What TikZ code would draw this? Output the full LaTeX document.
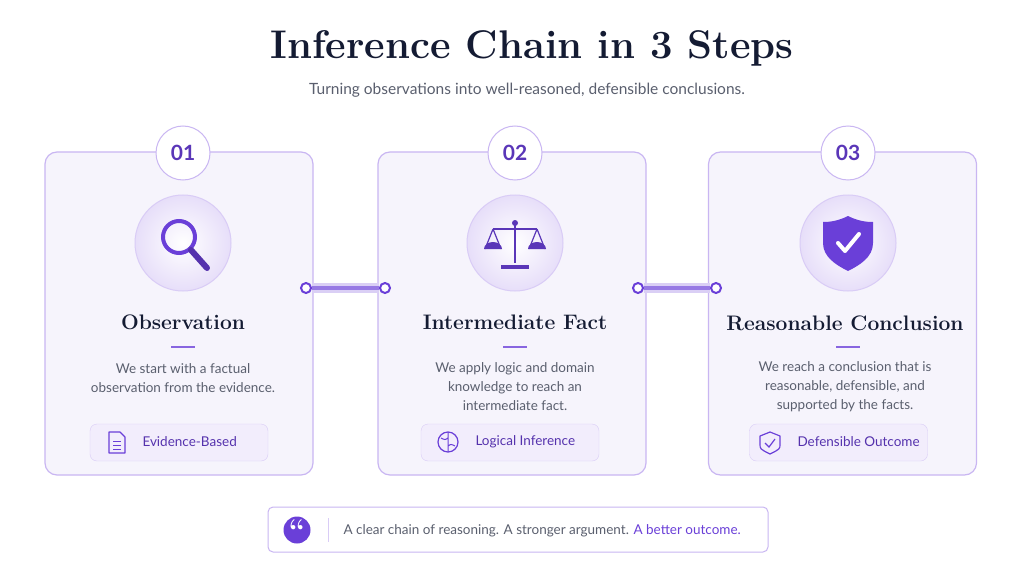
\documentclass[tikz,border=0pt]{standalone}
\usepackage{fontspec}
\setsansfont{Lato}
\usetikzlibrary{positioning}
\definecolor{ink}{HTML}{141B33}
\definecolor{txt}{HTML}{5A5F6E}
\definecolor{vio}{HTML}{6A3FD8}
\definecolor{lav}{HTML}{C9B6F2}
\definecolor{paleb}{HTML}{F6F4FC}
\tikzset{
  card/.style={draw=lav, line width=1.2pt, rounded corners=12pt, fill=paleb, minimum width=268pt, minimum height=323pt},
  num/.style={circle, draw=lav, line width=1pt, fill=white, minimum size=54pt, font=\sffamily\fontsize{21}{21}\selectfont\bfseries, text=vio!85!black},
  halo/.style={circle, draw=lav!70, line width=1pt, inner color=white, outer color=lav!45, minimum size=96pt},
  ttl/.style={font=\rmfamily\bfseries\fontsize{21}{21}\selectfont, text=ink},
  body/.style={font=\sffamily\fontsize{13.5}{19}\selectfont, text=txt, align=center},
  badge/.style={draw=lav!70, fill=lav!25, rounded corners=7pt, minimum width=178pt, minimum height=37pt},
  btxt/.style={font=\sffamily\fontsize{13.5}{14}\selectfont, text=vio!80!black},
  knob/.style={circle, draw=vio, line width=2pt, fill=white, minimum size=10pt, inner sep=0pt},
  link/.style={draw=vio!70, line width=4pt},
}
\begin{document}
\begin{tikzpicture}[x=1pt,y=-1pt]
    \useasboundingbox[fill=white] (0,0) rectangle (1024,580);

    \node[font=\rmfamily\bfseries\fontsize{40}{40}\selectfont, text=ink] (title) at (532,48) {Inference Chain in 3 Steps};
    \node[font=\sffamily\fontsize{15.5}{16}\selectfont, text=txt] (sub) at (527,90) {Turning observations into well-reasoned, defensible conclusions.};

    % cards
    \node[card] (c1) at (179,313.5) {};
    \node[card] (c2) at (512,313.5) {};
    \node[card] (c3) at (842.5,313.5) {};

    \foreach \n/\x/\lab in {1/183/01, 2/515/02, 3/848/03} {
        \node[num] (n\n) at (\x,153) {\lab};
        \node[halo] (h\n) at (\x,243) {};
        \draw[vio!80, line width=1.5pt] (\x-12,347) -- (\x+12,347);
    }

    % magnifier
    \draw[vio, line width=4pt] ([xshift=-4pt,yshift=6pt]h1.center) circle (16pt);
    \draw[vio!80!black, line width=6pt, line cap=round] ([xshift=8pt,yshift=-7pt]h1.center) -- ([xshift=24pt,yshift=-25pt]h1.center);
    % scales
    \begin{scope}[shift={(h2.center)}, vio!85!black, line width=2.5pt]
        \draw (0,-20) -- (0,20);
        \draw (-22,-14) -- (22,-14);
        \fill (-14,22) rectangle (14,26);
        \draw[line width=1.2pt] (-22,-14) -- (-30,6) (-22,-14) -- (-14,6) (22,-14) -- (14,6) (22,-14) -- (30,6);
        \fill (-31,6) arc (180:0:9 and -7) -- cycle;
        \fill (13,6) arc (180:0:9 and -7) -- cycle;
        \fill (0,-20) circle (3pt);
    \end{scope}
    % shield
    \begin{scope}[shift={(h3.center)}]
        \fill[vio] (0,-27) .. controls (10,-22) and (18,-21) .. (25,-21) -- (25,0) .. controls (25,14) and (12,22) .. (0,28) .. controls (-12,22) and (-25,14) .. (-25,0) -- (-25,-21) .. controls (-18,-21) and (-10,-22) .. (0,-27);
        \draw[white, line width=4pt, line cap=round, line join=round] (-10,0) -- (-3,8) -- (11,-9);
    \end{scope}

    % titles and texts
    \node[ttl] (t1) at (183,322) {Observation};
    \node[ttl] (t2) at (515,322) {Intermediate Fact};
    \node[ttl] (t3) at (845,323) {Reasonable Conclusion};
    \node[body] (b1) at (183,378) {We start with a factual\\observation from the evidence.};
    \node[body] (b2) at (515,387) {We apply logic and domain\\knowledge to reach an\\intermediate fact.};
    \node[body] (b3) at (845,387) {We reach a conclusion that is\\reasonable, defensible, and\\supported by the facts.};

    % badges
    \node[badge] (g1) at (179,442.5) {};
    \node[badge] (g2) at (510,442.5) {};
    \node[badge] (g3) at (838.5,442.5) {};
    \node[btxt, anchor=west] (gt1) at (139,442) {Evidence-Based};
    \node[btxt, anchor=west] (gt2) at (472,442) {Logical Inference};
    \node[btxt, anchor=west] (gt3) at (794,442) {Defensible Outcome};
    % badge icons
    \draw[vio, line width=1.2pt, line join=round] (109,432) -- (120,432) -- (125,437) -- (125,453) -- (109,453) -- cycle;
    \draw[vio, line width=1pt] (113,441) -- (121,441) (113,445) -- (121,445) (113,449) -- (121,449);
    \draw[vio, line width=1.2pt] (448,442) circle (10pt);
    \draw[vio, line width=1pt] (448,432) -- (448,452) (441,438) .. controls (445,440) .. (448,438) (455,446) .. controls (451,444) .. (448,446);
    \draw[vio, line width=1.2pt, line join=round] (770,432) -- (780,436) -- (780,444) .. controls (780,449) .. (770,454) .. controls (760,449) .. (760,444) -- (760,436) -- cycle;
    \draw[vio, line width=1.2pt] (765,443) -- (769,447) -- (775,439);

    % connectors
    \node[knob] (k1) at (306,288) {};
    \node[knob] (k2) at (385,288) {};
    \node[knob] (k3) at (638,288) {};
    \node[knob] (k4) at (716,288) {};
    \draw[vio!25, line width=10pt] (k1) -- (k2) (k3) -- (k4);
    \draw[link] (k1) -- (k2);
    \draw[link] (k3) -- (k4);

    % banner
    \node[draw=lav, line width=1pt, fill=white, rounded corners=5pt, minimum width=500pt, minimum height=45pt] (ban) at (518,529.5) {};
    \node[circle, fill=vio, minimum size=27pt, inner sep=0pt, text=white, font=\rmfamily\bfseries\fontsize{30}{30}\selectfont] (q) at (297,530) {\raisebox{-9pt}{``}};
    \draw[lav!70, line width=0.8pt] (328,518) -- (328,542);
    \node[font=\sffamily\fontsize{13.5}{14}\selectfont, text=txt, anchor=west] (bt) at (340,531) {A clear chain of reasoning. A stronger argument. \textcolor{vio}{A better outcome.}};
\end{tikzpicture}
\end{document}
